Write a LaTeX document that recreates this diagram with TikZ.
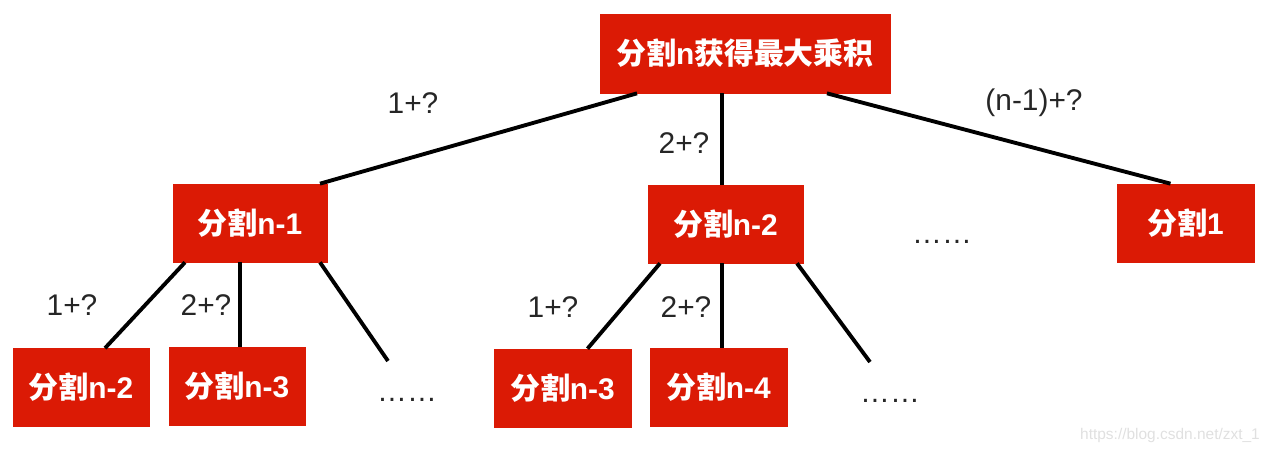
\documentclass[tikz,border=0pt]{standalone}
\usepackage{fontspec}
\setmainfont{Liberation Sans}
\newfontfamily\cjk{Noto Sans CJK SC}
\usetikzlibrary{positioning, calc}
\definecolor{splitred}{HTML}{DB1A05}
\definecolor{markgray}{HTML}{E0E0E0}

\begin{document}
\begin{tikzpicture}[
  x=0.02cm, y=-0.02cm,
  every node/.style={font=\fontsize{17}{20}\selectfont},
  box/.style={rectangle, draw=#1, fill=#1, text=white, minimum width=2.72cm, minimum height=1.56cm, inner sep=0pt, font=\fontsize{17}{20}\selectfont\bfseries},
  box/.default=splitred,
  link/.style={line width=2.2pt, black},
  tag/.style={font=\fontsize{17}{20}\selectfont, text=black!85},
]
\useasboundingbox (0,0) rectangle (1269,454);

% Levels of the split tree
\node[box, minimum width=5.8cm, minimum height=1.58cm] (root) at (745,53.5) {{\cjk 分割}n{\cjk 获得最大乘积}};
\node[box, minimum width=3.08cm] (n1) at (250,223) {{\cjk 分割}n-1};
\node[box, minimum width=3.1cm] (n2) at (725.5,224) {{\cjk 分割}n-2};
\node[box, minimum width=2.74cm] (one) at (1185.5,223) {{\cjk 分割}1};
\node[box] (n1a) at (81,387.5) {{\cjk 分割}n-2};
\node[box] (n1b) at (237,386) {{\cjk 分割}n-3};
\node[box, minimum width=2.74cm] (n2a) at (562.5,388) {{\cjk 分割}n-3};
\node[box, minimum width=2.74cm] (n2b) at (718.5,387.5) {{\cjk 分割}n-4};

% Ellipses
\node[tag, anchor=base] (more1) at (407,401) {……};
\node[tag, anchor=base] (more2) at (890,402) {……};
\node[tag, anchor=base] (more3) at (942,243) {……};
\coordinate (free1) at (388,361);
\coordinate (free2) at (870,362);

% Root branches
\draw[link] ($(root.south)+(-108,0)$) -- ($(n1.north)+(70,0)$);
\draw[link] ($(root.south)+(-23,0)$) coordinate (r2) -- (r2 |- n2.north);
\draw[link] ($(root.south)+(82,0)$) -- ($(one.north)+(-15,0)$);

% Second level branches
\draw[link] ($(n1.south)+(-65,0)$) -- ($(n1a.north)+(24,0)$);
\draw[link] ($(n1.south)+(-10,0)$) coordinate (s2) -- (s2 |- n1b.north);
\draw[link] ($(n1.south)+(70,0)$) -- (free1);
\draw[link] ($(n2.south)+(-65.5,0)$) -- ($(n2a.north)+(25,0)$);
\draw[link] ($(n2.south)+(-3.5,0)$) coordinate (t2) -- (t2 |- n2b.north);
\draw[link] ($(n2.south)+(71.5,0)$) -- (free2);

% Branch labels
\node[tag] (l1) at (413,103) {1+?};
\node[tag] (l2) at (684,143) {2+?};
\node[tag] (l3) at (1034,103) {(n-1)+?};
\node[tag] (l4) at (72,305) {1+?};
\node[tag] (l5) at (206,305) {2+?};
\node[tag] (l6) at (553,307) {1+?};
\node[tag] (l7) at (686,307) {2+?};

\node[text=markgray, font=\fontsize{8.8}{10}\selectfont] (mark) at (1170,435) {https://blog.csdn.net/zxt\_1};
\end{tikzpicture}
\end{document}
